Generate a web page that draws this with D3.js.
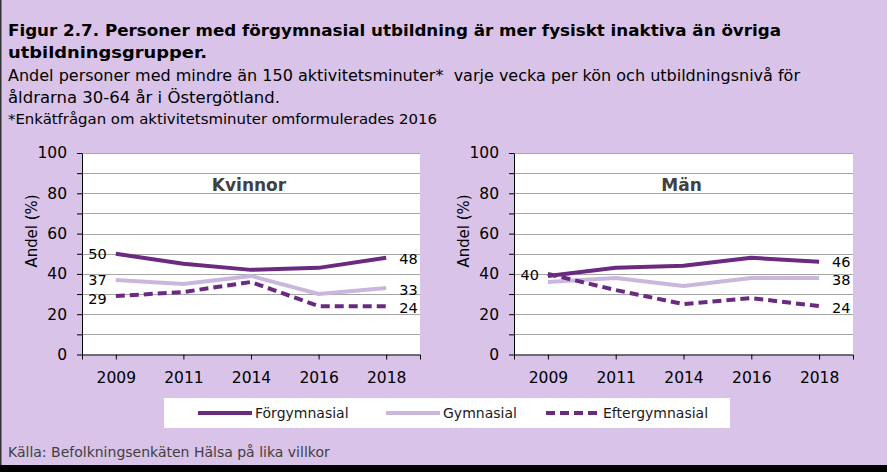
<!DOCTYPE html>
<html>
<head>
<meta charset="utf-8">
<script src="https://cdn.jsdelivr.net/npm/d3@7/dist/d3.min.js"></script>
<style>
  html, body { margin: 0; padding: 0; background: #d9c3e8; }
  svg { display: block; }
</style>
</head>
<body>
<svg id="chart" width="887" height="472"></svg>
<script>
// ---------- data ----------
const years = ["2009", "2011", "2014", "2016", "2018"];
const seriesNames = ["Förgymnasial", "Gymnasial", "Eftergymnasial"];

const kvinnorForgymnasial = [50, 45, 42, 43, 48];
const kvinnorGymnasial    = [37, 35, 39, 30, 33];
const kvinnorEftergymn    = [29, 31, 36, 24, 24];

const manForgymnasial = [39, 43, 44, 48, 46];
const manGymnasial    = [36, 38, 34, 38, 38];
const manEftergymn    = [40, 32, 25, 28, 24];

const yTicks = [0, 10, 20, 30, 40, 50, 60, 70, 80, 90, 100];

// which series get a value label at first / last point
const kvinnorFirstLabels = ["Förgymnasial", "Gymnasial", "Eftergymnasial"];
const kvinnorLastLabels  = ["Förgymnasial", "Gymnasial", "Eftergymnasial"];
const manFirstLabels = ["Eftergymnasial"];
const manLastLabels  = ["Förgymnasial", "Gymnasial", "Eftergymnasial"];

const titleLines = [
  "Figur 2.7. Personer med förgymnasial utbildning är mer fysiskt inaktiva än övriga",
  "utbildningsgrupper."
];
const subtitleLines = [
  "Andel personer med mindre än 150 aktivitetsminuter*\u00a0 varje vecka per kön och utbildningsnivå för",
  "åldrarna 30-64 år i Östergötland."
];
const footnote = "*Enkätfrågan om aktivitetsminuter omformulerades 2016";
const source = "Källa: Befolkningsenkäten Hälsa på lika villkor";

// ---------- style ----------
const FONT = "'DejaVu Sans', sans-serif";
const dark = "#6b2a80";
const light = "#cbb7de";
const styles = {
  "Förgymnasial":   { color: dark,  dash: null },
  "Gymnasial":      { color: light, dash: null },
  "Eftergymnasial": { color: dark,  dash: "9,5" }
};
// vertical nudges of value labels (px), to keep them apart
const labelNudge = {
  "Kvinnor": { first: { "Förgymnasial": 0.5, "Gymnasial": 0, "Eftergymnasial": 2.5 },
               last:  { "Förgymnasial": 1, "Gymnasial": 1.5, "Eftergymnasial": 1.5 } },
  "Män":     { first: { "Eftergymnasial": 1.5 },
               last:  { "Förgymnasial": 0.5, "Gymnasial": 2, "Eftergymnasial": 1.5 } }
};

const svg = d3.select("#chart");
svg.append("rect").attr("width", 887).attr("height", 472).attr("fill", "#d9c3e8");
svg.append("rect").attr("x", 0).attr("y", 0).attr("width", 1.5).attr("height", 472).attr("fill", "#333");
svg.append("rect").attr("x", 0).attr("y", 465).attr("width", 887).attr("height", 7).attr("fill", "#000");

// ---------- titles ----------
const tl = [
  { t: titleLines[0], y: 36, w: 773, size: 16.5, bold: true },
  { t: titleLines[1], y: 58, w: 199, size: 16.5, bold: true },
  { t: subtitleLines[0], y: 81, w: 792, size: 16, bold: false },
  { t: subtitleLines[1], y: 103, w: 272, size: 16, bold: false },
  { t: footnote, y: 124, w: 429, size: 14, bold: false }
];
tl.forEach(d => {
  svg.append("text").attr("x", 8).attr("y", d.y)
    .attr("font-family", FONT).attr("font-size", d.size)
    .attr("font-weight", d.bold ? "bold" : "normal")
    .attr("fill", "#000")
    .attr("textLength", d.w).attr("lengthAdjust", "spacingAndGlyphs")
    .text(d.t);
});

// ---------- panels ----------
function panel(x0, x1, name, data, firstLabels, lastLabels) {
  const yTop = 153, yBot = 354.5;
  const x = d3.scalePoint().domain(years).range([x0, x1]).padding(0.5);
  const y = d3.scaleLinear().domain([0, 100]).range([yBot, yTop]);
  const g = svg.append("g");

  g.append("rect").attr("x", x0).attr("y", yTop).attr("width", x1 - x0).attr("height", yBot - yTop).attr("fill", "#fff");

  // gridlines
  g.selectAll("line.grid").data(yTicks.filter(v => v > 0)).enter().append("line")
    .attr("x1", x0).attr("x2", x1)
    .attr("y1", d => Math.round(y(d)) + 0.5).attr("y2", d => Math.round(y(d)) + 0.5)
    .attr("stroke", "#a6a6a6").attr("stroke-width", 1);

  // y axis
  const yAxis = d3.axisLeft(y).tickValues(yTicks)
    .tickFormat(d => d % 20 === 0 ? d : "").tickSize(5).tickPadding(10).tickSizeOuter(0);
  const ya = g.append("g").attr("transform", `translate(${x0},0)`).call(yAxis);
  ya.selectAll("text").attr("font-family", FONT).attr("font-size", 15.5).attr("fill", "#000");
  ya.selectAll("line, path").attr("stroke", "#000");

  // x axis
  const xAxis = d3.axisBottom(x).tickSize(5).tickSizeOuter(5).tickPadding(12);
  const xa = g.append("g").attr("transform", `translate(0,${yBot})`).call(xAxis);
  xa.selectAll("text").attr("font-family", FONT).attr("font-size", 15.5).attr("fill", "#000");
  xa.selectAll("line, path").attr("stroke", "#000");

  // axis title
  g.append("text")
    .attr("transform", `translate(${x0 - 51},231) rotate(-90)`)
    .attr("text-anchor", "middle").attr("dy", "0.35em")
    .attr("font-family", FONT).attr("font-size", 16).attr("fill", "#000")
    .attr("textLength", 73).attr("lengthAdjust", "spacingAndGlyphs")
    .text("Andel (%)");

  // panel name
  g.append("text").attr("x", (x0 + x1) / 2 - 2).attr("y", 191)
    .attr("text-anchor", "middle")
    .attr("font-family", FONT).attr("font-size", 17).attr("font-weight", "bold").attr("fill", "#404040")
    .text(name);

  const line = d3.line().x((d, i) => x(years[i])).y(d => y(d));
  ["Gymnasial", "Eftergymnasial", "Förgymnasial"].forEach(s => {
    g.append("path").datum(data[s]).attr("d", line)
      .attr("fill", "none").attr("stroke", styles[s].color).attr("stroke-width", 4)
      .attr("stroke-dasharray", styles[s].dash)
      .attr("stroke-linejoin", "round");
  });

  const nudge = labelNudge[name];
  firstLabels.forEach(s => {
    const v = data[s][0];
    g.append("text").attr("x", x(years[0]) - 9).attr("y", y(v) + nudge.first[s])
      .attr("dy", "0.35em").attr("text-anchor", "end")
      .attr("font-family", FONT).attr("font-size", 14.5).attr("fill", "#000").text(v);
  });
  lastLabels.forEach(s => {
    const v = data[s][years.length - 1];
    g.append("text").attr("x", x(years[years.length - 1]) + 13).attr("y", y(v) + nudge.last[s])
      .attr("dy", "0.35em").attr("text-anchor", "start")
      .attr("font-family", FONT).attr("font-size", 14.5).attr("fill", "#000").text(v);
  });
}

panel(82, 420, "Kvinnor",
  { "Förgymnasial": kvinnorForgymnasial, "Gymnasial": kvinnorGymnasial, "Eftergymnasial": kvinnorEftergymn },
  kvinnorFirstLabels, kvinnorLastLabels);
panel(514, 853, "Män",
  { "Förgymnasial": manForgymnasial, "Gymnasial": manGymnasial, "Eftergymnasial": manEftergymn },
  manFirstLabels, manLastLabels);

// ---------- legend ----------
const lg = svg.append("g");
lg.append("rect").attr("x", 164).attr("y", 398).attr("width", 566).attr("height", 30).attr("fill", "#fff");
const legendPos = [
  { s: "Förgymnasial", x: 198 },
  { s: "Gymnasial", x: 386 },
  { s: "Eftergymnasial", x: 546 }
];
legendPos.forEach(d => {
  lg.append("line").attr("x1", d.x).attr("x2", d.x + 54).attr("y1", 413).attr("y2", 413)
    .attr("stroke", styles[d.s].color).attr("stroke-width", 4)
    .attr("stroke-dasharray", styles[d.s].dash);
  lg.append("text").attr("x", d.x + 57).attr("y", 413).attr("dy", "0.35em")
    .attr("font-family", FONT).attr("font-size", 14).attr("fill", "#1a1a1a").text(d.s);
});

svg.append("text").attr("x", 8).attr("y", 457)
  .attr("font-family", FONT).attr("font-size", 14).attr("fill", "#404040").text(source);
</script>
</body>
</html>
